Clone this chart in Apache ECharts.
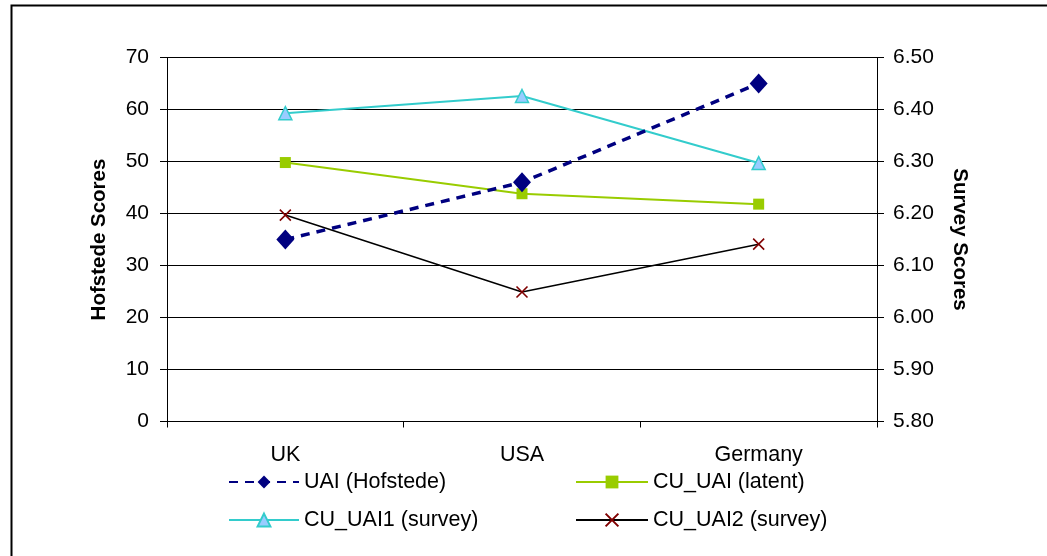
<!DOCTYPE html>
<html>
<head>
<meta charset="utf-8">
<script src="https://cdn.jsdelivr.net/npm/echarts@6/dist/echarts.min.js"></script>
<style>html,body{margin:0;padding:0;background:#fff;}#c{width:1047px;height:556px;}</style>
</head>
<body>
<div id="c"></div>
<script>
const categories = ['UK', 'USA', 'Germany'];
const uaiHofstede = [35, 46, 65];
const cuUaiLatent = [6.298, 6.238, 6.218];
const cuUai1Survey = [6.393, 6.426, 6.297];
const cuUai2Survey = [6.197, 6.049, 6.141];
const leftTicks = {min: 0, max: 70, interval: 10};
const rightTicks = {min: 5.8, max: 6.5, interval: 0.1};

const FONT = 'Arial, "Liberation Sans", sans-serif';
const chart = echarts.init(document.getElementById('c'), null, {renderer: 'canvas'});
const xPath = 'path://M0,0L10,10M10,0L0,10';

chart.setOption({
  animation: false,
  backgroundColor: '#fff',
  textStyle: {fontFamily: FONT},
  graphic: [{
    type: 'rect', left: 9, top: 3, silent: true,
    shape: {x: 0, y: 0, width: 1100, height: 600},
    style: {fill: 'none', stroke: '#000', lineWidth: 2}
  }],
  grid: {left: 167, right: 170, top: 57.5, bottom: 134.5, containLabel: false},
  legend: [{
    orient: 'vertical', left: 223, top: 466,
    itemWidth: 70, itemHeight: 16, itemGap: 16,
    textStyle: {fontSize: 21.5, color: '#000', fontFamily: FONT},
    data: ['UAI (Hofstede)', 'CU_UAI1 (survey)']
  }, {
    orient: 'vertical', left: 570, top: 466,
    itemWidth: 72, itemHeight: 16, itemGap: 16,
    textStyle: {fontSize: 21.5, color: '#000', fontFamily: FONT},
    data: ['CU_UAI (latent)', 'CU_UAI2 (survey)']
  }],
  xAxis: {
    type: 'category', data: categories, boundaryGap: true,
    axisLine: {lineStyle: {color: '#000', width: 1}},
    axisTick: {show: true, length: 6, lineStyle: {color: '#000'}},
    axisLabel: {color: '#000', fontSize: 21.5, margin: 23, fontFamily: FONT},
    splitLine: {show: false}
  },
  yAxis: [{
    type: 'value', position: 'left',
    min: leftTicks.min, max: leftTicks.max, interval: leftTicks.interval,
    name: 'Hofstede Scores', nameLocation: 'middle', nameGap: 57, nameRotate: 90,
    nameTextStyle: {fontSize: 20.5, fontWeight: 'bold', color: '#000', fontFamily: FONT},
    axisLine: {show: true, lineStyle: {color: '#000'}},
    axisTick: {show: true, length: 7, lineStyle: {color: '#000'}},
    axisLabel: {color: '#000', fontSize: 21, margin: 18, fontFamily: FONT},
    splitLine: {show: true, lineStyle: {color: '#000', width: 1}}
  }, {
    type: 'value', position: 'right',
    min: rightTicks.min, max: rightTicks.max, interval: rightTicks.interval,
    name: 'Survey Scores', nameLocation: 'middle', nameGap: 72, nameRotate: -90,
    nameTextStyle: {fontSize: 20.5, fontWeight: 'bold', color: '#000', fontFamily: FONT},
    axisLine: {show: true, lineStyle: {color: '#000'}},
    axisTick: {show: true, length: 7, lineStyle: {color: '#000'}},
    axisLabel: {color: '#000', fontSize: 21, margin: 16, fontFamily: FONT,
      formatter: v => v.toFixed(2)},
    splitLine: {show: false}
  }],
  series: [{
    name: 'UAI (Hofstede)', type: 'line', yAxisIndex: 0, data: uaiHofstede,
    symbol: 'diamond', symbolSize: [18, 20],
    lineStyle: {color: '#000080', width: 3.5, type: [9, 7]},
    itemStyle: {color: '#000080'}, z: 5
  }, {
    name: 'CU_UAI (latent)', type: 'line', yAxisIndex: 1, data: cuUaiLatent,
    symbol: 'rect', symbolSize: 11,
    lineStyle: {color: '#99CC00', width: 2},
    itemStyle: {color: '#99CC00'}
  }, {
    name: 'CU_UAI1 (survey)', type: 'line', yAxisIndex: 1, data: cuUai1Survey,
    symbol: 'triangle', symbolSize: 13,
    lineStyle: {color: '#33CCCC', width: 2},
    itemStyle: {color: '#99CCFF', borderColor: '#33CCCC', borderWidth: 1.5}
  }, {
    name: 'CU_UAI2 (survey)', type: 'line', yAxisIndex: 1, data: cuUai2Survey,
    symbol: xPath, symbolSize: 11,
    lineStyle: {color: '#000', width: 1.5},
    itemStyle: {color: 'rgba(0,0,0,0)', borderColor: '#800000', borderWidth: 1.6}
  }]
});
</script>
</body>
</html>
